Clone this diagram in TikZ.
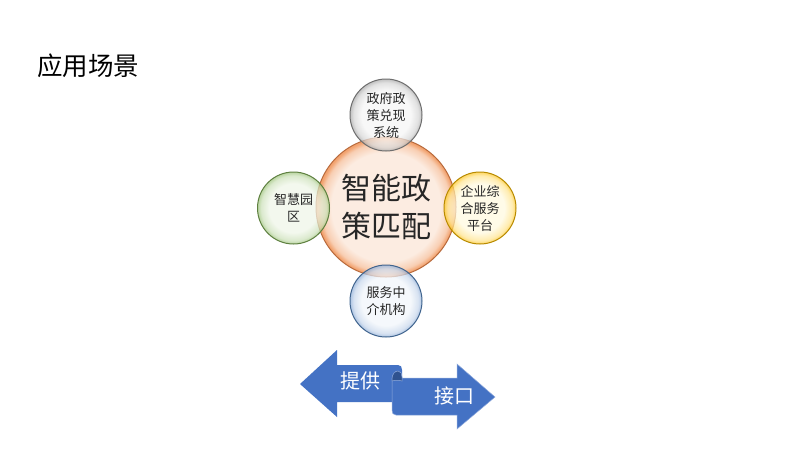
\documentclass[tikz,border=0pt]{standalone}
\usepackage{fontspec}
\newfontfamily\cjk{Noto Sans CJK SC}
\definecolor{oC}{HTML}{FCECE1}\definecolor{oR}{HTML}{F2A26E}\definecolor{oB}{HTML}{B86A3C}
\definecolor{gC}{HTML}{F6F6F6}\definecolor{gR}{HTML}{B0B0B0}\definecolor{gB}{HTML}{6E6E6E}
\definecolor{nC}{HTML}{EFF6E8}\definecolor{nR}{HTML}{A5C985}\definecolor{nB}{HTML}{5E8040}
\definecolor{yC}{HTML}{FFFAE0}\definecolor{yR}{HTML}{FFCC33}\definecolor{yB}{HTML}{B88A00}
\definecolor{bC}{HTML}{F2F6FB}\definecolor{bR}{HTML}{97B4DB}\definecolor{bB}{HTML}{41658F}
\definecolor{arB}{HTML}{4472C4}\definecolor{arD}{HTML}{2F528F}\definecolor{arE}{HTML}{8FAADC}
\pgfdeclareradialshading{shO}{\pgfpoint{0bp}{0bp}}{color(0bp)=(oC); color(19.5bp)=(oC); color(23bp)=(oR!40!oC); color(24.6bp)=(oR); color(25bp)=(oR); color(50bp)=(oR)}
\pgfdeclareradialshading{shG}{\pgfpoint{0bp}{0bp}}{color(0bp)=(gC); color(17bp)=(gC); color(22.5bp)=(gR!45!gC); color(24.6bp)=(gR); color(25bp)=(gR); color(50bp)=(gR)}
\pgfdeclareradialshading{shN}{\pgfpoint{0bp}{0bp}}{color(0bp)=(nC); color(17bp)=(nC); color(22.5bp)=(nR!45!nC); color(24.6bp)=(nR); color(25bp)=(nR); color(50bp)=(nR)}
\pgfdeclareradialshading{shY}{\pgfpoint{0bp}{0bp}}{color(0bp)=(yC); color(17bp)=(yC); color(22.5bp)=(yR!45!yC); color(24.6bp)=(yR); color(25bp)=(yR); color(50bp)=(yR)}
\pgfdeclareradialshading{shB}{\pgfpoint{0bp}{0bp}}{color(0bp)=(bC); color(17bp)=(bC); color(22.5bp)=(bR!45!bC); color(24.6bp)=(bR); color(25bp)=(bR); color(50bp)=(bR)}
\tikzset{
  ball/.style={circle, inner sep=0pt, outer sep=0pt, line width=1pt, align=center,
    text=black!85, shade},
  smallball/.style={ball, minimum size=72pt, fill opacity=0.72, draw opacity=1, text opacity=1,
    font=\cjk\fontsize{13}{17}\selectfont},
  arrowtext/.style={text=white, inner sep=0pt, font=\cjk\fontsize{20}{24}\selectfont},
  arrowbody/.style={fill=arB},
}
\begin{document}
\begin{tikzpicture}[x=1pt,y=-1pt]
\useasboundingbox (0,0) rectangle (800,472);
\fill[white] (0,0) rectangle (800,472);

\node[anchor=west, inner sep=0pt, font=\cjk\fontsize{25.5}{30}\selectfont] (title) at (37,66) {应用场景};

\node[ball, minimum size=140pt, draw=oB, shading=shO, font=\cjk\fontsize{30}{38}\selectfont] (center) at (386,207) {智能政\\策匹配};

\node[smallball, draw=gB, shading=shG] (top) at (386,115) {政府政\\策兑现\\系统};
\node[smallball, draw=nB, shading=shN] (left) at (293.5,208) {智慧园\\区};
\node[smallball, draw=yB, shading=shY] (right) at (480,208) {企业综\\合服务\\平台};
\node[smallball, draw=bB, shading=shB] (bottom) at (386,301) {服务中\\介机构};

% ribbon arrows
\fill[arrowbody] (300,384) -- (337,350) -- (337,365) -- (398,365)
  .. controls (401,365) and (402,367) .. (402,370) -- (402,402) -- (337,402) -- (337,417) -- cycle;
\filldraw[arrowbody, draw=arE, line width=0.5pt] (392,378) -- (457,378) -- (457,364) -- (495,397) -- (457,429) -- (457,415) -- (396,415)
  .. controls (393,415) and (392,413) .. (392,410) -- cycle;
\filldraw[fill=arD, draw=arE, line width=0.5pt] (392,379) .. controls (392,374) and (395,371) .. (398,371)
  .. controls (401,371) and (402,374) .. (402,377) -- (402,381) .. controls (399,380) and (395,380) .. (392,381) -- cycle;

\node[arrowtext] (provide) at (360,381) {提供};
\node[arrowtext] (iface) at (454,396) {接口};
\end{tikzpicture}
\end{document}
